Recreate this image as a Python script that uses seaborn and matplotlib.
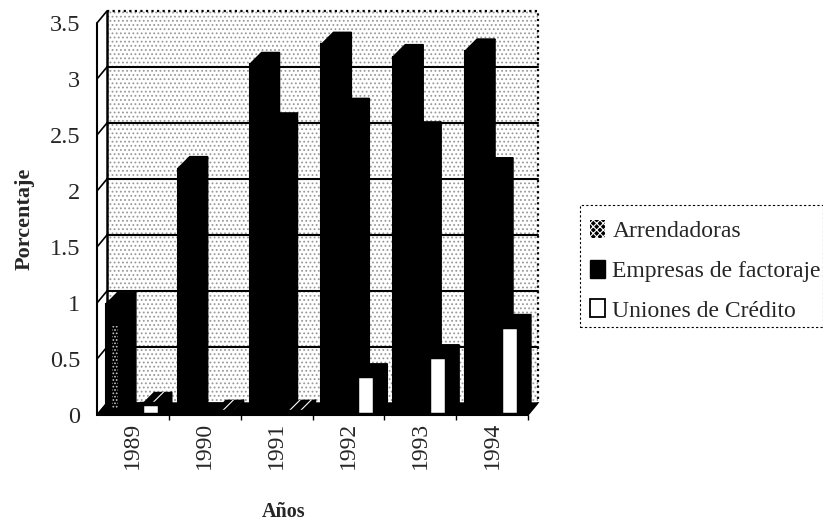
import pandas as pd
import numpy as np
import matplotlib
matplotlib.use('Agg')
import matplotlib.pyplot as plt
from matplotlib.patches import Polygon, Rectangle
import seaborn as sns

years = ['1989', '1990', '1991', '1992', '1993', '1994']
arrendadoras = [0.99, 2.20, 3.13, 3.31, 3.20, 3.25]
factoraje = [0.0, 0.0, 2.59, 2.72, 2.51, 2.19]
uniones = [0.10, 0.03, 0.03, 0.35, 0.52, 0.79]
series_names = ['Arrendadoras', 'Empresas de factoraje', 'Uniones de Crédito']
y_ticks = [0, 0.5, 1, 1.5, 2, 2.5, 3, 3.5]
y_tick_labels = ['0', '0.5', '1', '1.5', '2', '2.5', '3', '3.5']

sns.set_style('white')
plt.rcParams['font.family'] = ['Liberation Serif', 'DejaVu Serif']
plt.rcParams['hatch.linewidth'] = 0.8

df = pd.DataFrame({'year': years, series_names[0]: arrendadoras,
                   series_names[1]: factoraje, series_names[2]: uniones})
df_long = df.melt(id_vars='year', var_name='tipo', value_name='pct')

fig = plt.figure(figsize=(8.23, 5.22), dpi=100)
ax = fig.add_axes([97/823, 1-415/522, 431/823, 392/522])

palette = {series_names[0]: 'black', series_names[1]: 'black', series_names[2]: 'white'}
sns.barplot(data=df_long, x='year', y='pct', hue='tipo', hue_order=series_names,
            palette=palette, width=0.75, gap=0, errorbar=None, ax=ax,
            edgecolor='black', linewidth=1.5, saturation=1, zorder=3, legend=False)
ax.set_xlim(-0.5, 5.5)
ax.set_ylim(0, 3.5)
for side in ax.spines.values():
    side.set_visible(False)

# fake 3D: depth of the bars and of the walls, one pixel = 1/72 cat and 1/112 pct
bar_dx, bar_dy = 12/72, 12/112
wall_dx, wall_dy = 10/72, 12/112
x0, x1 = ax.get_xlim()
y1 = ax.get_ylim()[1]

ax.add_patch(Rectangle((x0+wall_dx, wall_dy), x1-x0, y1, facecolor='white', edgecolor='#999999',
                       hatch='....', lw=0, zorder=0, clip_on=False))
ax.add_patch(Polygon([(x0, 0), (x1, 0), (x1+wall_dx, wall_dy), (x0+wall_dx, wall_dy)],
                     facecolor='black', edgecolor='black', zorder=1.5, clip_on=False))
ax.plot([x0+wall_dx, x1+wall_dx, x1+wall_dx], [y1+wall_dy, y1+wall_dy, wall_dy], color='black',
        ls=(0, (1, 1.5)), lw=1.6, zorder=1, clip_on=False)
ax.plot([x0, x0], [0, y1], color='black', lw=1.5, clip_on=False, zorder=1)
ax.plot([x0+wall_dx, x0+wall_dx], [wall_dy, y1+wall_dy], color='black', lw=1.8, clip_on=False, zorder=1)
ax.plot([x0, x1], [0, 0], color='black', lw=1.5, clip_on=False, zorder=4)
for t in y_ticks:
    ax.plot([x0, x0+wall_dx], [t, t+wall_dy], color='black', lw=1.2, clip_on=False, zorder=1)
    if t > 0 and t < y1:
        ax.plot([x0+wall_dx, x1+wall_dx], [t+wall_dy, t+wall_dy], color='black', lw=1.5, zorder=1, clip_on=False)

for n, cont in enumerate(ax.containers):
    for i, bar in enumerate(cont):
        left, w, v = bar.get_x(), bar.get_width(), bar.get_height()
        right = left+w
        if n == 2:
            bar.set_linewidth(3.2)
        ax.add_patch(Polygon([(right, 0), (right+bar_dx, bar_dy), (right+bar_dx, v+bar_dy), (right, v)],
                             facecolor='black', edgecolor='black', lw=1, zorder=2, clip_on=False))
        top = Polygon([(left, v), (right, v), (right+bar_dx, v+bar_dy), (left+bar_dx, v+bar_dy)],
                      facecolor='black', edgecolor='black', lw=1, zorder=2, clip_on=False)
        if n == 2 and v <= 0.1:
            top.set_edgecolor('white')
            top.set_hatch('///')
            top.set_linewidth(0)
        ax.add_patch(top)
        if n == 0 and i == 0:
            # the only place where the pattern of this series survives
            ax.add_patch(Rectangle((left+0.33*w, 0.05), 0.35*w, 0.75*v, facecolor='black', edgecolor='#cccccc',
                                   hatch='.....', lw=0, zorder=3.5))

ax.set_yticks(y_ticks)
ax.set_yticklabels(y_tick_labels)
ax.tick_params(axis='y', length=0, pad=12, labelsize=17.5)
ax.tick_params(axis='x', which='major', length=0, pad=5, labelsize=17, labelrotation=90)
ax.set_xticks(np.arange(0.5, 5.6, 1), minor=True)
ax.tick_params(axis='x', which='minor', length=3.5, width=1, color='black', bottom=True)
ax.set_xlabel('Años', fontsize=14.5, fontweight='bold')
ax.xaxis.set_label_coords(0.432, -0.222)
ax.set_ylabel('Porcentaje', fontsize=16, fontweight='bold')
ax.yaxis.set_label_coords(-0.145, 0.5)

handles = [Rectangle((0, 0), 1, 1, facecolor='black', edgecolor='white', hatch='xxxxx', lw=0),
           Rectangle((0, 0), 1, 1, facecolor='black', edgecolor='black'),
           Rectangle((0, 0), 1, 1, facecolor='white', edgecolor='black', lw=1.3)]
leg = fig.legend(handles, series_names, loc='upper left', bbox_to_anchor=(580/823, 1-210/522),
                 bbox_transform=fig.transFigure, borderaxespad=0, fontsize=17, fancybox=False,
                 handlelength=0.62, handleheight=0.8, handletextpad=0.33, labelspacing=0.74,
                 borderpad=0.42, frameon=False)
# frame drawn apart: the text sits low in the box in the original
fig.add_artist(Rectangle((580/823, 1-327/522), 243/823, 122/522, transform=fig.transFigure, facecolor='none',
                         edgecolor='black', lw=0.8, ls=(0, (2, 2)), zorder=0))

fig.savefig('out.png', dpi=100)
